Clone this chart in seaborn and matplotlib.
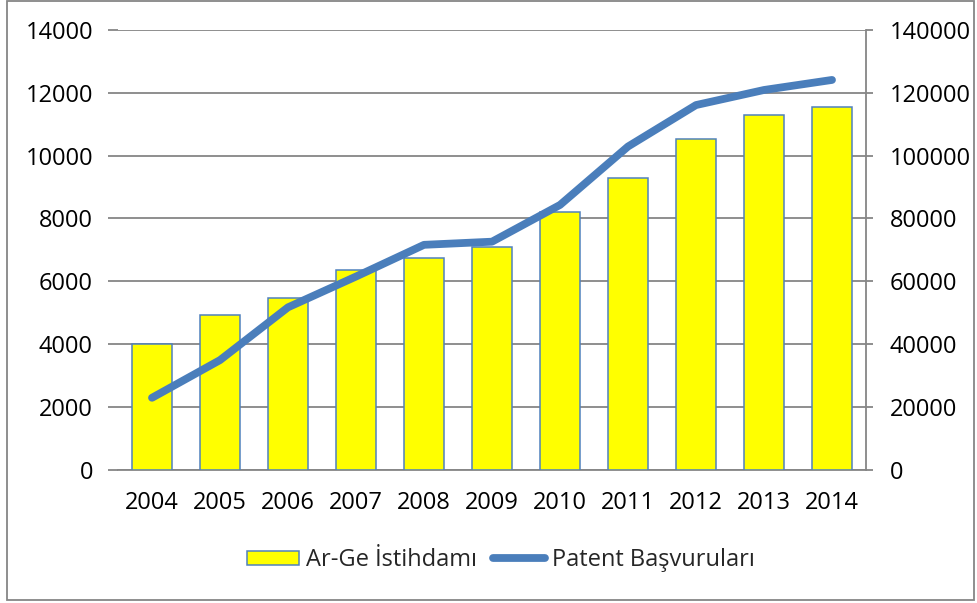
import numpy as np
import pandas as pd
import matplotlib
matplotlib.use("Agg")
import matplotlib.pyplot as plt
import seaborn as sns
from matplotlib.patches import Rectangle

# ------------------------------
# Data
# ------------------------------
years = ["2004", "2005", "2006", "2007", "2008", "2009",
         "2010", "2011", "2012", "2013", "2014"]
arge_istihdam = [4000, 4940, 5460, 6360, 6740, 7080,
                 8200, 9300, 10530, 11300, 11550]
patent_basvuru = [22900, 34900, 51700, 61500, 71600, 72600,
                  84300, 102900, 116100, 120900, 124100]

left_ticks = [0, 2000, 4000, 6000, 8000, 10000, 12000, 14000]
right_ticks = [0, 20000, 40000, 60000, 80000, 100000, 120000, 140000]

df = pd.DataFrame({"year": years, "arge": arge_istihdam, "patent": patent_basvuru})
df["pos"] = np.arange(len(df))

# ------------------------------
# Style
# ------------------------------
sns.set_theme(style="white")
plt.rcParams["font.family"] = ["Open Sans", "DejaVu Sans"]
FS = 17

GRID = "#868686"
BAR_FILL = "#FFFF00"
BAR_EDGE = "#4F81BD"
LINE_COL = "#4A7EBB"

fig = plt.figure(figsize=(9.78, 6.03), dpi=100)
ax = fig.add_axes([118 / 978, 1 - 469.7 / 603, (866 - 118) / 978, (469.7 - 30) / 603])
ax2 = ax.twinx()

# ------------------------------
# Bars: Ar-Ge Istihdami (left axis)
# ------------------------------
sns.barplot(data=df, x="year", y="arge", ax=ax, color=BAR_FILL, width=0.58,
            edgecolor=BAR_EDGE, linewidth=1.1, saturation=1, zorder=3,
            label="Ar-Ge İstihdamı")
if ax.get_legend() is not None:
    ax.get_legend().remove()

# ------------------------------
# Line: Patent Basvurulari (right axis)
# ------------------------------
sns.lineplot(data=df, x="pos", y="patent", ax=ax2, color=LINE_COL, linewidth=5.6,
             solid_capstyle="round", solid_joinstyle="round", zorder=4,
             label="Patent Başvuruları", legend=False)

ax.set_xlim(-0.5, len(years) - 0.5)
ax.set_ylim(0, 14000)
ax2.set_ylim(0, 140000)
ax.set_yticks(left_ticks)
ax.set_yticklabels([str(t) for t in left_ticks])
ax2.set_yticks(right_ticks)
ax2.set_yticklabels([str(t) for t in right_ticks])
ax.set_xlabel("")
ax.set_ylabel("")
ax2.set_xlabel("")
ax2.set_ylabel("")

ax.yaxis.grid(True, color=GRID, linewidth=1.3, zorder=0)
ax.set_axisbelow(True)

for a in (ax, ax2):
    for side in ("top", "left", "right", "bottom"):
        a.spines[side].set_visible(False)
ax.spines["bottom"].set_visible(True)
ax.spines["bottom"].set_color(GRID)
ax.spines["bottom"].set_linewidth(1.3)
ax2.spines["right"].set_visible(True)
ax2.spines["right"].set_color(GRID)
ax2.spines["right"].set_linewidth(1.3)

ax.tick_params(axis="y", left=True, length=7, width=1.3, color=GRID, pad=11,
               labelsize=FS, labelcolor="black")
ax.tick_params(axis="x", bottom=False, length=0, pad=15, labelsize=FS, labelcolor="black")
ax2.tick_params(axis="y", right=True, length=5, width=1.3, color=GRID, pad=12,
                labelsize=FS, labelcolor="black")

# ------------------------------
# Legend
# ------------------------------
h1, l1 = ax.get_legend_handles_labels()
h2, l2 = ax2.get_legend_handles_labels()
leg = fig.legend(h1 + h2, l1 + l2, loc="center", bbox_to_anchor=(501 / 978, 1 - 560 / 603),
                 ncol=2, frameon=False, fontsize=FS, handlelength=2.2, handleheight=0.55,
                 handletextpad=0.3, columnspacing=0.7)

# outer border
fig.patches.append(Rectangle((7 / 978, 3 / 603), 967 / 978, 599 / 603,
                             transform=fig.transFigure, fill=False,
                             edgecolor=GRID, linewidth=1.3))

fig.savefig("out.png", dpi=100)
